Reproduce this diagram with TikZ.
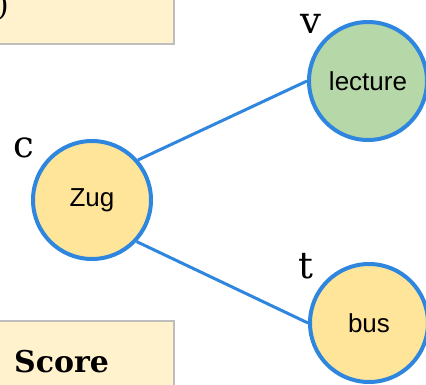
\documentclass[tikz,border=0pt]{standalone}
\usepackage{fontspec}
\setmainfont{Liberation Sans}
\newfontfamily\lblfont{DejaVu Serif}
\usetikzlibrary{calc}
\definecolor{edgeblue}{RGB}{46,134,222}
\definecolor{boxfill}{RGB}{255,242,204}
\definecolor{boxline}{RGB}{190,190,190}
\definecolor{yellowfill}{RGB}{255,229,153}
\definecolor{greenfill}{RGB}{182,215,168}
\tikzset{
  vertex/.style={circle, draw=edgeblue, line width=4pt, minimum size=118pt, inner sep=0pt, font=\fontsize{26}{30}\selectfont},
  infobox/.style={draw=boxline, fill=boxfill, line width=1.2pt},
  lbl/.style={anchor=base, inner sep=0pt, font=\lblfont\fontsize{37}{40}\selectfont},
  edge/.style={draw=edgeblue, line width=3pt}
}
\begin{document}
\begin{tikzpicture}[x=1pt,y=1pt]
\useasboundingbox (0,0) rectangle (426,384);
\clip (0,0) rectangle (426,384);
% boxes
\draw[infobox] (-10,340) rectangle (174,400);
\node[anchor=base east, inner sep=0pt, font=\lblfont\fontsize{30}{34}\selectfont] (paren) at (9,368) {)};
\draw[infobox] (-10,-10) rectangle (174,63);
\node[anchor=base west, inner sep=0pt, font=\lblfont\bfseries\fontsize{30}{34}\selectfont] (score) at (14,12) {Score};
% vertices
\node[vertex, fill=yellowfill] (zug) at (92,184) {Zug};
\node[vertex, fill=greenfill] (lecture) at (368,303) {lecture};
\node[vertex, fill=yellowfill] (bus) at (369,61) {bus};
% labels
\node[lbl] (lc) at (24,227) {c};
\node[lbl] (lv) at (311,351) {v};
\node[lbl] (lt) at (306,106) {t};
% edges
\draw[edge] (zug.41) -- (lecture.west);
\draw[edge] (zug.-43) -- (bus.west);
\end{tikzpicture}
\end{document}
